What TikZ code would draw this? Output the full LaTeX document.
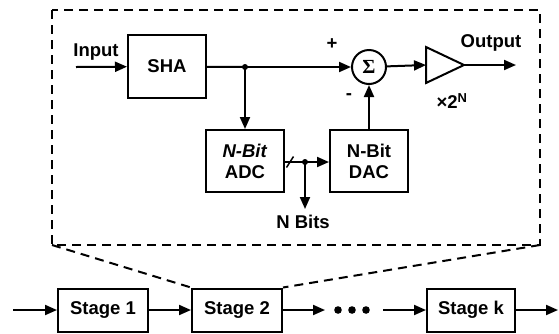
\documentclass[tikz,border=0pt]{standalone}
\usepackage{fontspec}
\setmainfont{Liberation Sans}
\newfontfamily\sigmafont{Liberation Serif}
\usetikzlibrary{arrows.meta,positioning,calc}

\tikzset{
  blk/.style={draw,line width=2pt,inner sep=0pt,align=center,
    font=\bfseries\fontsize{18.5}{21}\selectfont},
  lbl/.style={inner sep=0pt,font=\bfseries\fontsize{18.5}{21}\selectfont},
  sig/.style={line width=2pt,-{Triangle[length=12pt,width=10pt]}},
  wire/.style={line width=2pt},
  zoomline/.style={line width=2pt,dash pattern=on 9pt off 6pt}
}

\begin{document}
\begin{tikzpicture}[x=1pt,y=-1pt]
\useasboundingbox (0,0) rectangle (559,333);

% stage 2 in detail
\node[blk,minimum width=78,minimum height=63] (sha) at (167,66.5) {SHA};
\node[blk,minimum width=78,minimum height=62] (adc) at (245,161) {\textit{N-Bit}\\ADC};
\node[blk,minimum width=78,minimum height=62] (dac) at (369,161) {N-Bit\\DAC};
\node[blk,shape=circle,minimum size=34] (sum) at (369,67) {\sigmafont\fontsize{20}{20}\selectfont Σ};

\coordinate (inp) at (76,67);
\coordinate (j1) at (245,67);
\coordinate (ampin) at (426,65);
\coordinate (ampout) at (464,65);
\coordinate (outp) at (516,65);
\coordinate (j2) at (305,162);
\coordinate (bits) at (305,209);
\coordinate (cut) at (290,162);

\draw[wire,line join=miter] (426,47) -- (ampout) -- (426,83) -- cycle;

\node[lbl] (inlbl) at (96,52) {Input};
\node[lbl] (outlbl) at (491,43) {Output};
\node[lbl] (plus) at (332,44) {+};
\node[lbl] (minus) at (349,97) {-};
\node[lbl] (gain) at (452,101) {×2\textsuperscript{N}};
\node[lbl] (nbits) at (303,222) {N Bits};

\draw[sig] (inp) -- (sha);
\draw[wire] (sha) -- (j1);
\draw[sig] (j1) -- (sum);
\draw[sig] (j1) -- (adc);
\fill (j1) circle (3);
\draw[sig] (sum) -- (ampin);
\draw[sig] (ampout) -- (outp);
\draw[sig] (dac) -- (sum);
\draw[sig] (adc.east |- j2) -- (dac.west |- j2);
\fill (j2) circle (3);
\draw[sig] (j2) -- (bits);
\draw[line width=1.5pt] ($(cut)+(-3.5,5.5)$) -- ($(cut)+(3.5,-5.5)$);

% pipeline
\node[blk,minimum width=90,minimum height=43] (s1) at (103,310) {Stage 1};
\node[blk,minimum width=90,minimum height=43] (s2) at (237,310) {Stage 2};
\node[blk,minimum width=88,minimum height=43] (sk) at (471,310) {Stage k};

\coordinate (pin) at (13,310);
\coordinate (d0) at (325,310);
\coordinate (d1) at (383,310);
\coordinate (pout) at (558,310);

\draw[sig] (pin) -- (s1);
\draw[sig] (s1) -- (s2);
\draw[sig] (s2) -- (d0);
\foreach \x in {338,352,366} \fill (\x,310) circle (3.8);
\draw[sig] (d1) -- (sk);
\draw[sig] (sk) -- (pout);

% zoom outline
\coordinate (tl) at (52,10);
\coordinate (br) at (540,245);
\draw[zoomline] (tl) rectangle (br);
\draw[zoomline] (tl |- br) -- (s2.north west);
\draw[zoomline] (br) -- (s2.north east);

\end{tikzpicture}
\end{document}
